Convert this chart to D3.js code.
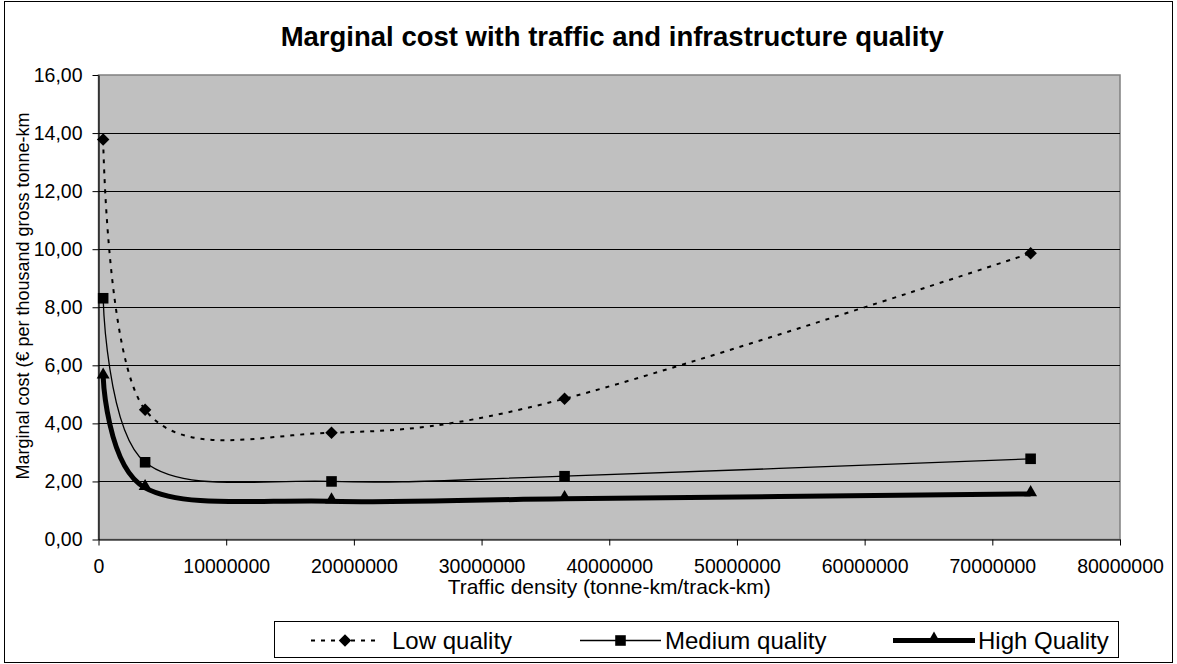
<!DOCTYPE html>
<html>
<head>
<meta charset="utf-8">
<script src="https://cdn.jsdelivr.net/npm/d3@7"></script>
<style>
  body { margin: 0; background: #fff; }
  text { font-family: "Liberation Sans", Arial, sans-serif; fill: #000; }
</style>
</head>
<body>
<svg id="chart" width="1177" height="664"></svg>
<script>
// traffic density (tonne-km/track-km) and marginal cost per quality level
const traffic = [365000, 3650000, 18250000, 36500000, 73000000];
const lowQuality = [13.78, 4.47, 3.68, 4.85, 9.86];
const mediumQuality = [8.31, 2.66, 2.00, 2.18, 2.78];
const highQuality = [5.62, 1.78, 1.32, 1.40, 1.57];
const seriesNames = ["Low quality", "Medium quality", "High Quality"];
const xTickValues = [0, 10000000, 20000000, 30000000, 40000000, 50000000, 60000000, 70000000, 80000000];
const yTickValues = [0, 2, 4, 6, 8, 10, 12, 14, 16];

const svg = d3.select("#chart");

// plot area
const plotLeft = 98.5, plotRight = 1120, plotTop = 75, plotBottom = 539.5;

const x = d3.scaleLinear().domain([0, 80000000]).range([plotLeft, plotRight]);
const y = d3.scaleLinear().domain([0, 16]).range([plotBottom, plotTop]);

// outer chart border
svg.append("rect")
  .attr("x", 4.5).attr("y", 1.5)
  .attr("width", 1168).attr("height", 661)
  .attr("fill", "#fff")
  .attr("stroke", "#000")
  .attr("stroke-width", 1);

svg.append("text")
  .attr("x", (plotLeft + plotRight) / 2 + 3)
  .attr("y", 46)
  .attr("text-anchor", "middle")
  .style("font-size", "27.5px")
  .style("font-weight", "bold")
  .text("Marginal cost with traffic and infrastructure quality");

svg.append("rect")
  .attr("x", plotLeft).attr("y", plotTop)
  .attr("width", plotRight - plotLeft).attr("height", plotBottom - plotTop)
  .attr("fill", "#c0c0c0")
  .attr("stroke", "#808080")
  .attr("stroke-width", 1.5);

// gridlines
svg.append("g")
  .selectAll("line")
  .data(yTickValues.filter(d => d > 0 && d < 16))
  .enter()
  .append("line")
  .attr("x1", plotLeft).attr("x2", plotRight)
  .attr("y1", d => Math.round(y(d)) + 0.5)
  .attr("y2", d => Math.round(y(d)) + 0.5)
  .attr("stroke", "#000")
  .attr("stroke-width", 1);

// axes
const yAxis = svg.append("g")
  .attr("transform", "translate(" + plotLeft + ",0)")
  .call(d3.axisLeft(y)
    .tickValues(yTickValues)
    .tickSize(6)
    .tickSizeOuter(0)
    .tickPadding(10)
    .tickFormat(d => d.toFixed(2).replace(".", ",")));

const xAxis = svg.append("g")
  .attr("transform", "translate(0," + plotBottom + ")")
  .call(d3.axisBottom(x)
    .tickValues(xTickValues)
    .tickSize(6)
    .tickSizeOuter(0)
    .tickPadding(14)
    .tickFormat(d3.format("d")));

[yAxis, xAxis].forEach(ax => {
  ax.select(".domain").attr("stroke", "#000").attr("stroke-width", 1.2);
  ax.selectAll(".tick line").attr("stroke", "#000");
  ax.selectAll("text")
    .style("font-size", "19.5px")
    .style("font-family", "'Liberation Sans', Arial, sans-serif")
    .attr("fill", "#000");
});

// axis titles
svg.append("text")
  .attr("x", (plotLeft + plotRight) / 2)
  .attr("y", 594)
  .attr("text-anchor", "middle")
  .style("font-size", "21px")
  .text("Traffic density (tonne-km/track-km)");

svg.append("text")
  .attr("transform", "translate(29," + 296 + ") rotate(-90)")
  .attr("text-anchor", "middle")
  .style("font-size", "18px")
  .text("Marginal cost (€ per thousand gross tonne-km");

// series
const series = [
  { name: seriesNames[0], values: lowQuality, width: 2, dash: "4,6", symbol: "diamond" },
  { name: seriesNames[1], values: mediumQuality, width: 1.3, dash: null, symbol: "square" },
  { name: seriesNames[2], values: highQuality, width: 5, dash: null, symbol: "triangle" }
];

const line = d3.line()
  .x(d => x(d[0]))
  .y(d => y(d[1]))
  .curve(d3.curveCardinal.tension(0));

function marker(sel, kind) {
  if (kind == "diamond") {
    sel.attr("d", d3.symbol().type(d3.symbolSquare).size(78)())
      .attr("transform", function() { return d3.select(this).attr("transform") + " rotate(45)"; });
  } else if (kind == "square") {
    sel.attr("d", d3.symbol().type(d3.symbolSquare).size(112)());
  } else {
    sel.attr("d", d3.symbol().type(d3.symbolTriangle).size(72)())
      .attr("transform", function() { return d3.select(this).attr("transform") + " translate(0,-1.5)"; });
  }
}

const plot = svg.append("g");

series.forEach(s => {
  const pts = traffic.map((t, i) => [t, s.values[i]]);
  plot.append("path")
    .attr("d", line(pts))
    .attr("fill", "none")
    .attr("stroke", "#000")
    .attr("stroke-width", s.width)
    .attr("stroke-linejoin", "round")
    .attr("stroke-dasharray", s.dash);

  plot.selectAll(".m-" + s.symbol)
    .data(pts)
    .enter()
    .append("path")
    .attr("class", "m-" + s.symbol)
    .attr("transform", d => "translate(" + x(d[0]) + "," + y(d[1]) + ")")
    .attr("fill", "#000")
    .call(marker, s.symbol);
});

// legend
const legend = svg.append("g");
legend.append("rect")
  .attr("x", 274.5).attr("y", 621.5)
  .attr("width", 844).attr("height", 36)
  .attr("fill", "#fff")
  .attr("stroke", "#000")
  .attr("stroke-width", 1);

const legendPos = [
  { x1: 311, x2: 379, tx: 392 },
  { x1: 580, x2: 661, tx: 665 },
  { x1: 893, x2: 975, tx: 978 }
];
const ly = 640.5;

series.forEach((s, i) => {
  const p = legendPos[i];
  legend.append("line")
    .attr("x1", p.x1).attr("x2", p.x2)
    .attr("y1", ly).attr("y2", ly)
    .attr("stroke", "#000")
    .attr("stroke-width", s.width)
    .attr("stroke-dasharray", s.dash);
  legend.append("path")
    .attr("transform", "translate(" + ((p.x1 + p.x2) / 2) + "," + ly + ")")
    .attr("fill", "#000")
    .call(marker, s.symbol);
  legend.append("text")
    .attr("x", p.tx)
    .attr("y", ly + 8.5)
    .style("font-size", "24px")
    .text(s.name);
});
</script>
</body>
</html>
